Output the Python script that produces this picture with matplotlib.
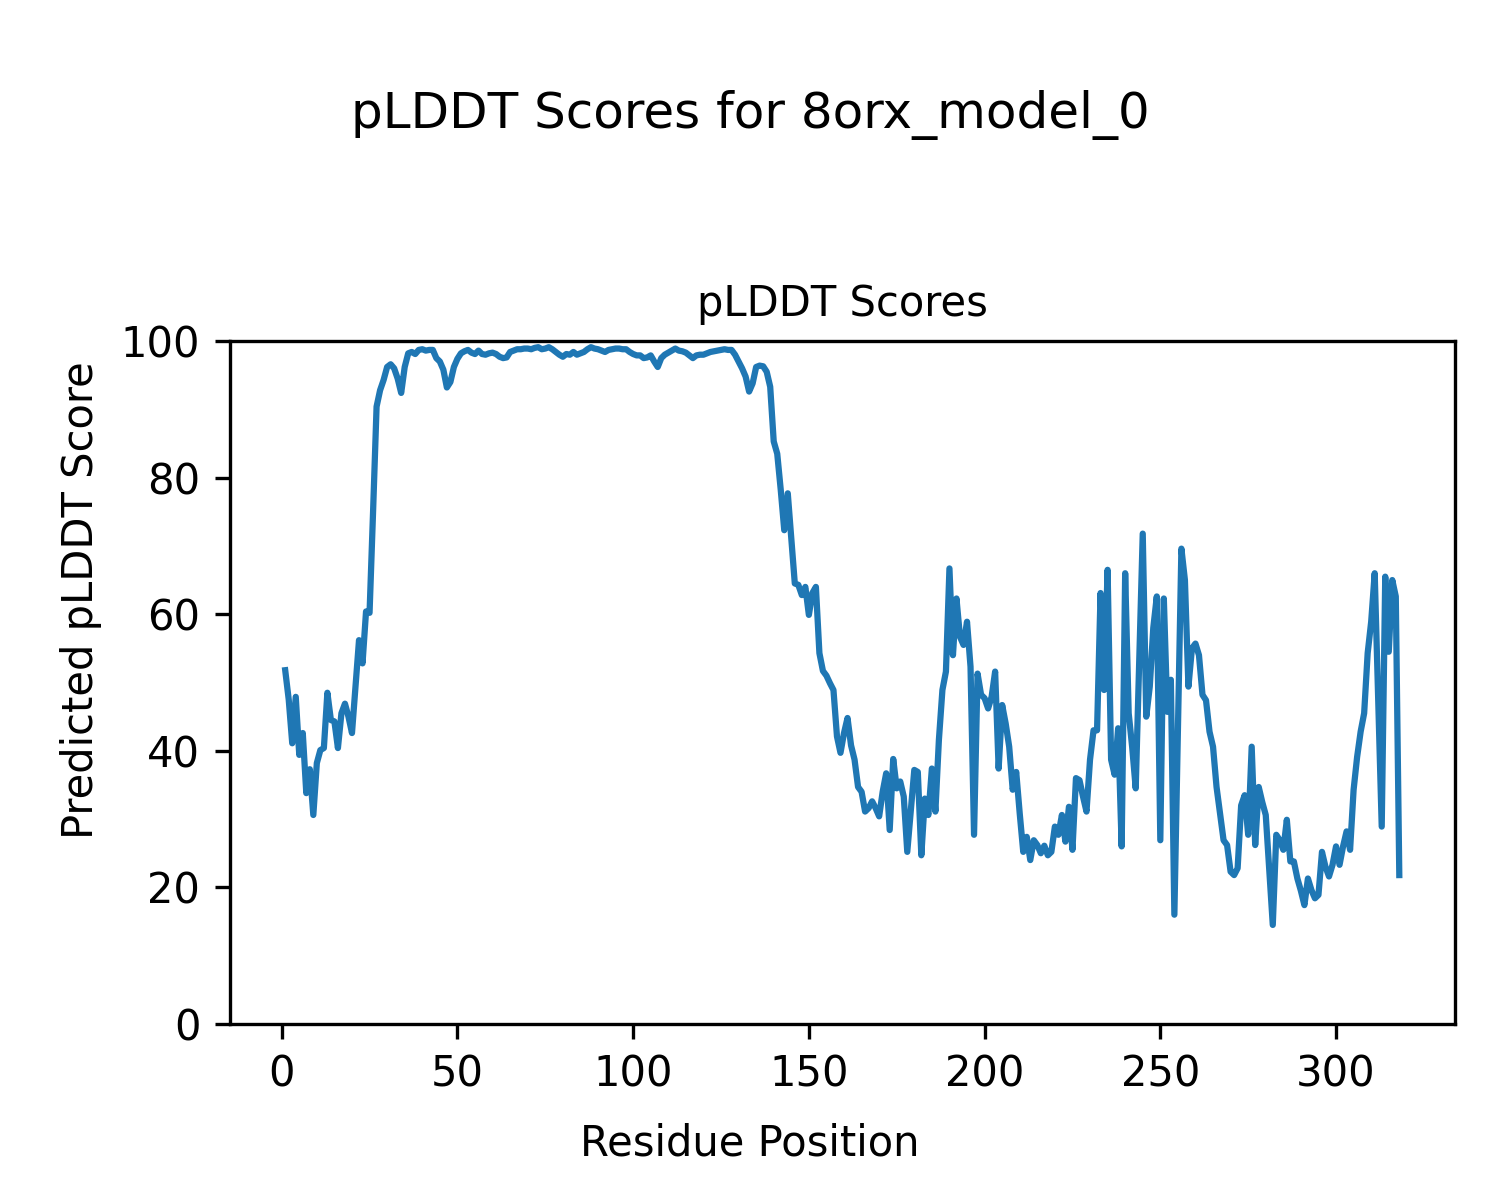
import numpy as np
import matplotlib
matplotlib.use('Agg')
import matplotlib.pyplot as plt

model_name = "8orx_model_0"

# pLDDT score per residue, residues 1..318
plddt_1_50 = [51.8, 47.5, 41.1, 47.9, 39.4, 42.6, 33.8, 37.3, 30.6, 38.2,
              40.1, 40.4, 48.5, 44.5, 44.3, 40.4, 45.5, 46.9, 45.0, 42.6,
              49.5, 56.2, 52.8, 60.4, 60.2, 75.0, 90.4, 92.8, 94.3, 96.2,
              96.6, 96.0, 94.5, 92.4, 96.2, 98.2, 98.4, 98.1, 98.7, 98.8,
              98.6, 98.7, 98.7, 97.5, 97.0, 95.8, 93.2, 94.0, 96.2, 97.4]
plddt_51_100 = [98.2, 98.5, 98.7, 98.3, 98.1, 98.6, 98.1, 98.0, 98.2, 98.3,
                98.1, 97.7, 97.5, 97.6, 98.4, 98.6, 98.8, 98.8, 98.9, 98.9,
                98.8, 99.0, 99.1, 98.8, 98.9, 99.1, 98.8, 98.4, 98.0, 97.7,
                98.1, 98.0, 98.4, 98.0, 98.2, 98.4, 98.8, 99.1, 98.9, 98.8,
                98.6, 98.4, 98.7, 98.8, 98.9, 98.9, 98.8, 98.8, 98.4, 98.1]
plddt_101_150 = [97.9, 97.9, 97.5, 97.6, 97.9, 97.0, 96.2, 97.5, 98.0, 98.3,
                 98.6, 98.9, 98.6, 98.5, 98.3, 97.9, 97.5, 97.9, 98.0, 98.0,
                 98.2, 98.4, 98.5, 98.6, 98.7, 98.8, 98.7, 98.7, 98.0, 97.0,
                 96.0, 94.8, 92.6, 93.8, 96.2, 96.4, 96.3, 95.5, 93.3, 85.3,
                 83.5, 78.2, 72.3, 77.7, 71.0, 64.5, 64.3, 62.8, 64.0, 59.9]
plddt_151_200 = [63.1, 64.0, 54.3, 51.7, 51.0, 49.9, 48.9, 42.1, 39.7, 42.6,
                 44.8, 40.8, 38.7, 34.7, 34.0, 31.1, 31.6, 32.6, 31.6, 30.4,
                 34.0, 36.7, 28.4, 38.8, 34.5, 35.5, 33.3, 25.2, 31.2, 37.2,
                 36.9, 24.7, 33.0, 30.6, 37.4, 31.1, 41.6, 48.9, 51.6, 66.7,
                 54.0, 62.3, 56.7, 55.5, 58.9, 52.3, 27.7, 51.3, 48.2, 47.7]
plddt_201_250 = [46.2, 47.9, 51.6, 37.4, 46.7, 44.0, 40.6, 34.3, 36.9, 30.8,
                 25.2, 27.4, 24.0, 26.9, 26.2, 25.0, 26.1, 24.7, 25.2, 28.9,
                 27.7, 30.6, 26.7, 31.8, 25.5, 36.0, 35.7, 33.3, 31.1, 38.7,
                 43.0, 43.0, 63.1, 48.9, 66.5, 38.7, 36.5, 43.3, 26.0, 66.0,
                 45.5, 40.5, 34.5, 53.0, 71.8, 45.0, 49.4, 58.0, 62.6, 26.9]
plddt_251_318 = [62.3, 45.7, 50.4, 16.0, 43.0, 69.6, 65.0, 49.4, 55.0, 55.7,
                 54.0, 48.2, 47.4, 42.8, 40.6, 34.7, 30.8, 26.9, 26.2, 22.3,
                 21.8, 22.8, 32.0, 33.5, 27.7, 40.6, 26.2, 34.7, 32.5, 30.6,
                 22.5, 14.5, 27.7, 26.9, 25.5, 29.9, 23.8, 23.8, 21.3, 19.5,
                 17.4, 21.3, 19.6, 18.4, 18.9, 25.2, 23.0, 21.6, 23.3, 26.0,
                 23.3, 26.0, 28.2, 25.5, 34.3, 39.1, 42.8, 45.5, 54.3, 58.9,
                 66.0, 47.5, 28.9, 65.5, 54.5, 65.0, 62.6, 21.8]

plddt = np.array(plddt_1_50 + plddt_51_100 + plddt_101_150
                 + plddt_151_200 + plddt_201_250 + plddt_251_318)
residues = np.arange(1, len(plddt) + 1)

fig = plt.figure(figsize=(5, 4), dpi=300)
fig.suptitle(f"pLDDT Scores for {model_name}", fontsize=12, y=0.925)

ax = fig.add_axes([0.153, 0.1467, 0.817, 0.5691])
ax.plot(residues, plddt, color='#1f77b4', linewidth=1.5)
ax.set_ylim(0, 100)
ax.set_title("pLDDT Scores", fontsize=10)

# labels are figure-level (centred on the figure, not the axes)
fig.supxlabel("Residue Position", fontsize=10, y=0.03, va='bottom')
fig.supylabel("Predicted pLDDT Score", fontsize=10, x=0.04, ha='left')

fig.savefig("out.png", dpi=300)
